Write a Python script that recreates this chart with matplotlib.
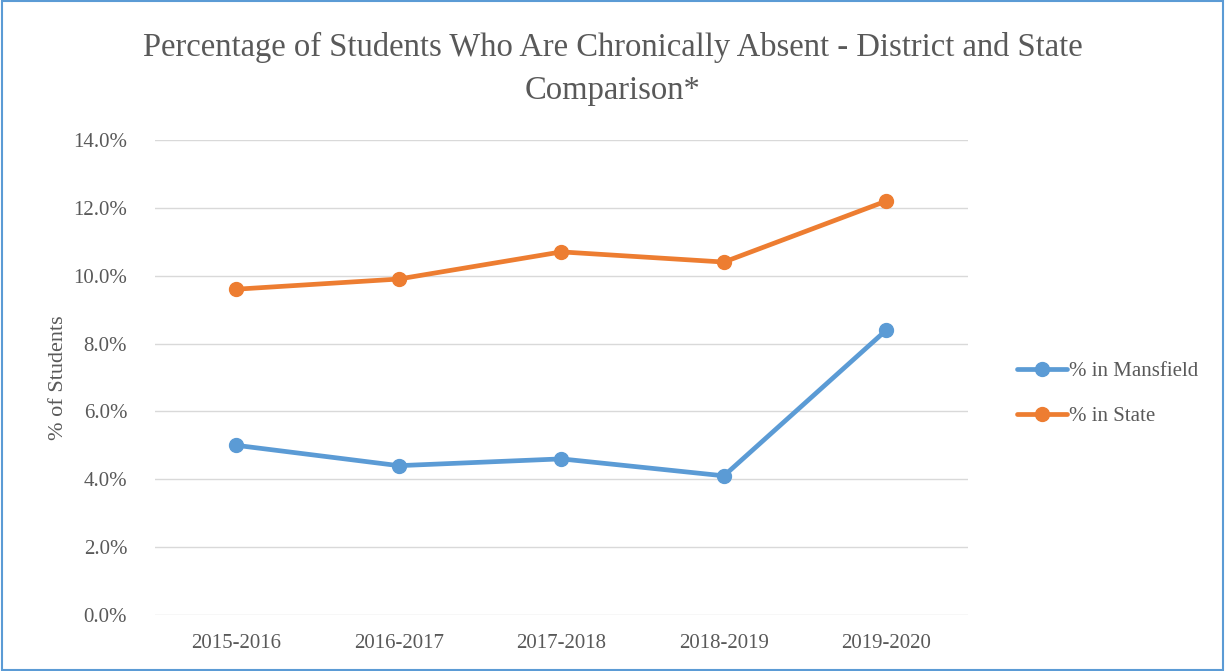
import matplotlib
matplotlib.use("Agg")
import matplotlib.pyplot as plt
from matplotlib.patches import Rectangle
from matplotlib.ticker import FuncFormatter

years = ["2015-2016", "2016-2017", "2017-2018", "2018-2019", "2019-2020"]
mansfield = [5.0, 4.4, 4.6, 4.1, 8.4]
state = [9.6, 9.9, 10.7, 10.4, 12.2]
series_names = ["% in Mansfield", "% in State"]
yticks = [0, 2, 4, 6, 8, 10, 12, 14]

plt.rcParams['font.family'] = ['Liberation Serif', 'DejaVu Serif']
grey = '#595959'

fig = plt.figure(figsize=(12.25, 6.71), dpi=100)
ax = fig.add_axes([0.1265, 0.0835, 0.6635, 0.708])

x = list(range(len(years)))
ax.plot(x, mansfield, color='#5B9BD5', lw=3.4, marker='o', ms=10, label=series_names[0], solid_capstyle='round')
ax.plot(x, state, color='#ED7D31', lw=3.4, marker='o', ms=10, label=series_names[1], solid_capstyle='round')

ax.set_xlim(-0.5, len(years) - 0.5)
ax.set_ylim(0, 14)
ax.set_yticks(yticks)
ax.yaxis.set_major_formatter(FuncFormatter(lambda v, p: f"{v:.1f}%"))
ax.set_xticks(x)
ax.set_xticklabels(years)
ax.grid(axis='y', color='#D9D9D9', lw=1)
ax.set_axisbelow(True)
for s in ax.spines.values():
    s.set_visible(False)
ax.tick_params(axis='both', length=0, labelsize=15, colors=grey)
ax.tick_params(axis='y', pad=20)
ax.tick_params(axis='x', pad=14)
ax.set_ylabel("% of Students", fontsize=16, color=grey, labelpad=4)

fig.suptitle("Percentage of Students Who Are Chronically Absent - District and State\nComparison*",
             fontsize=23.5, color=grey, y=0.952, linespacing=1.5)

leg = fig.legend(loc='center left', bbox_to_anchor=(0.815, 0.413), frameon=False,
                 fontsize=15, labelcolor=grey, handlelength=2.4, handletextpad=0.1,
                 labelspacing=1.25)

fig.patches.append(Rectangle((0.002, 0.002), 0.996, 0.996, transform=fig.transFigure,
                             fill=False, edgecolor='#5B9BD5', lw=1.5))

fig.savefig("out.png", dpi=100)
